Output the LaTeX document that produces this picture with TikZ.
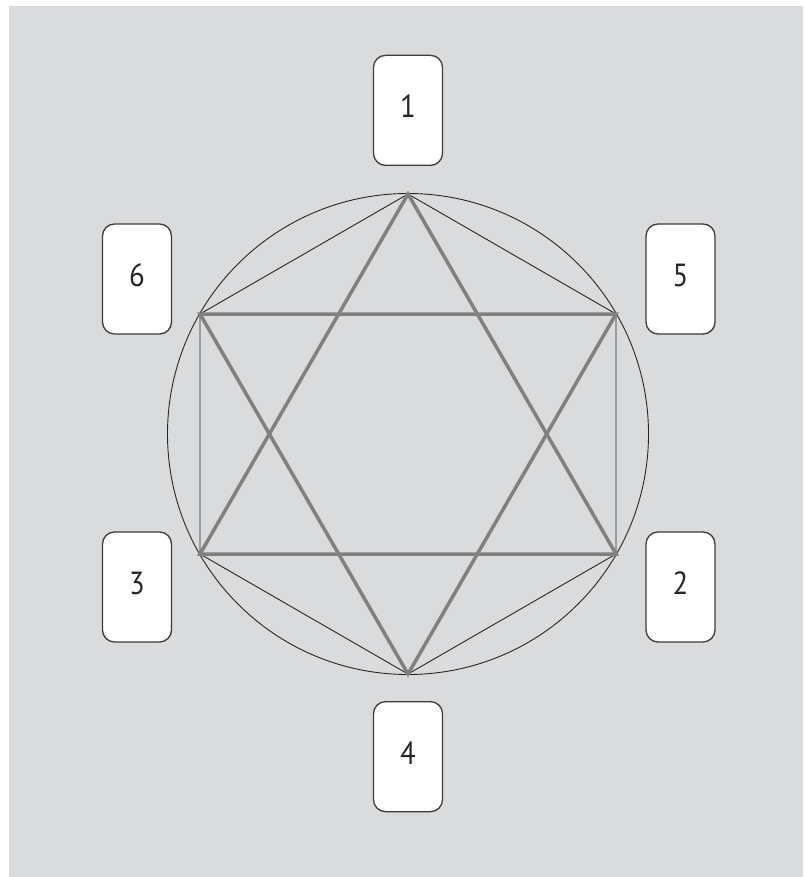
\documentclass[tikz,border=0pt]{standalone}
\usepackage{fontspec}
\setmainfont{PT Sans}[FakeStretch=0.9]
\definecolor{panelGray}{HTML}{DADBDD}
\definecolor{starGray}{HTML}{808080}
\definecolor{cardEdge}{HTML}{3C3C3C}
\usetikzlibrary{positioning}

\begin{document}
\begin{tikzpicture}[x=1pt, y=-1pt,
                    card/.style={draw=cardEdge, fill=white, rounded corners=12pt, line width=1.3pt,
                                 minimum width=69pt, minimum height=110pt, inner sep=0pt,
                                 font=\fontsize{32}{38}\selectfont, text=black!85, text depth=8pt},
                    thinline/.style={draw=black!85, line width=0.9pt},
                    starline/.style={draw=starGray, line width=3.5pt},
                    node distance=27pt
                ]
                    \useasboundingbox (0,0) rectangle (803,877);
                    \fill[panelGray] (9,6) rectangle (803,877);
                    % circle and the six points on it
                    \coordinate (mid) at (408,434);
                    \coordinate (p1) at (408,194);
                    \coordinate (p5) at (616,314);
                    \coordinate (p2) at (616,554);
                    \coordinate (p4) at (408,674);
                    \coordinate (p3) at (200,554);
                    \coordinate (p6) at (200,314);
                    \draw[thinline] (mid) circle (240.5);
                    \draw[thinline] (p1) -- (p5) -- (p2) -- (p4) -- (p3) -- (p6) -- cycle;
                    % the two triangles
                    \draw[starline] (p1) -- (p2) -- (p3) -- cycle;
                    \draw[starline] (p4) -- (p5) -- (p6) -- cycle;
                    % cards
                    \node[card, above=28pt of p1] (card1) {1};
                    \node[card, below=of p4] (card4) {4};
                    \node[card] (card5) at (680.5,279) {5};
                    \node[card] (card2) at (680.5,587) {2};
                    \node[card] (card6) at (137,279) {6};
                    \node[card] (card3) at (137,587) {3};
                \end{tikzpicture}
\end{document}
